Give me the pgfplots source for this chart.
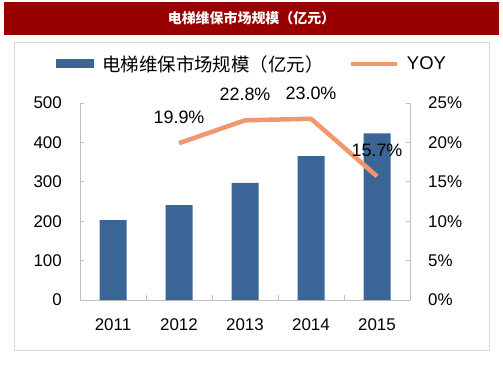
\documentclass[border=0pt]{standalone}
\usepackage{fontspec}
\setmainfont{Liberation Sans}
\newfontfamily\cjk{Noto Sans CJK SC}
\usepackage{pgfplots}
\pgfplotsset{compat=1.18}
\definecolor{barblue}{HTML}{3C6597}
\definecolor{yoyor}{HTML}{F0976E}
\definecolor{titlered}{HTML}{990000}
\definecolor{axgray}{HTML}{BFBFBF}
\definecolor{framegray}{HTML}{D9D9D9}
\begin{document}
\begin{tikzpicture}[x=1bp,y=1bp]
\useasboundingbox (0,0) rectangle (503,378);
\fill[white] (0,0) rectangle (503,378);
\fill[titlered] (4,343) rectangle (499,376);
\node[text=white,font=\cjk\bfseries\fontsize{14}{16}\selectfont] at (251.5,359.5) {电梯维保市场规模（亿元）};
\draw[framegray, line width=0.8bp] (14,28) rectangle (489,336);

\begin{axis}[
  at={(80bp,78bp)}, anchor=south west, scale only axis,
  width=330bp, height=197bp,
  xmin=-0.5, xmax=4.5, ymin=0, ymax=500,
  axis x line*=bottom, axis y line*=left,
  axis line style={-, draw=axgray, line width=0.8bp},
  tick style={draw=axgray, line width=0.8bp},
  tick align=inside,
  xtick={0,1,2,3,4},
  xticklabels={2011,2012,2013,2014,2015},
  major x tick style={draw=none},
  minor xtick={0.5,1.5,2.5,3.5},
  minor tick length=5bp,
  ytick={0,100,200,300,400,500},
  major tick length=4bp,
  /pgf/number format/assume math mode=true,
  ticklabel style={font=\fontsize{17}{19}\selectfont, inner sep=0pt},
  yticklabel style={anchor=east, xshift=-18bp},
  xticklabel style={anchor=north, yshift=-18bp},
  clip=false,
  legend style={at={(0.523,1.198)}, anchor=center, draw=none, fill=none,
    legend columns=2, font=\fontsize{18.5}{20}\selectfont,
    inner sep=0pt,
    /tikz/every odd column/.append style={column sep=5bp},
    /tikz/every even column/.append style={column sep=22bp},
    nodes={inner sep=3bp}},
]
\addplot[ybar, bar width=27bp, fill=barblue, draw=none,
  legend image code/.code={\fill[barblue] (0bp,-4.5bp) rectangle (38bp,4.5bp);}]
  coordinates {(0,203) (1,241) (2,297) (3,365) (4,423)};
\addlegendentry{{\cjk 电梯维保市场规模（亿元）}}
\addlegendimage{legend image code/.code={\draw[yoyor,line width=4.5bp] (0bp,0bp) -- (46bp,0bp);}}
\addlegendentry{YOY}
\end{axis}

\begin{axis}[
  at={(80bp,78bp)}, anchor=south west, scale only axis,
  width=330bp, height=197bp,
  xmin=-0.5, xmax=4.5, ymin=0, ymax=25,
  axis x line=none, axis y line*=right,
  axis line style={-, draw=axgray, line width=0.8bp},
  tick style={draw=axgray, line width=0.8bp},
  tick align=inside,
  ytick={0,5,10,15,20,25},
  major tick length=4bp,
  yticklabel={\pgfmathprintnumber{\tick}\%},
  /pgf/number format/assume math mode=true,
  ticklabel style={font=\fontsize{17}{19}\selectfont, inner sep=0pt},
  yticklabel style={anchor=west, xshift=18bp},
  clip=false,
]
\addplot[yoyor, line width=4.5bp, no markers,
  nodes near coords={\pgfmathprintnumber[fixed,fixed zerofill,precision=1]{\pgfplotspointmeta}\%},
  every node near coord/.style={anchor=south, inner sep=0pt, yshift=17bp, text=black,
    font=\fontsize{18}{20}\selectfont}]
  coordinates {(1,19.9) (2,22.8) (3,23.0) (4,15.7)};
\end{axis}
\end{tikzpicture}
\end{document}
